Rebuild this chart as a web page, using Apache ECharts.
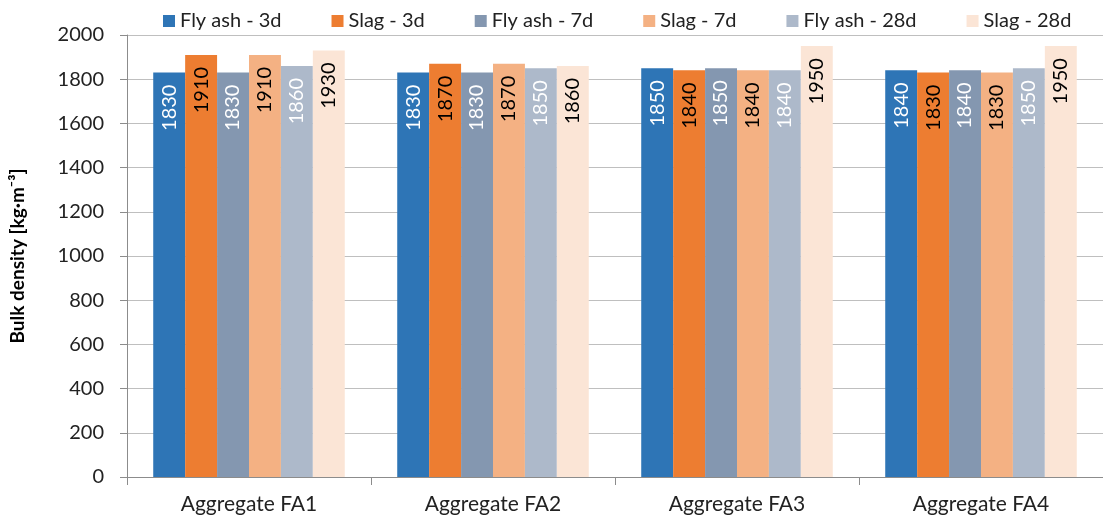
<!DOCTYPE html>
<html>
<head>
<meta charset="utf-8">
<script src="https://cdn.jsdelivr.net/npm/echarts@6/dist/echarts.min.js"></script>
<style>
  html, body { margin: 0; padding: 0; background: #fff; }
  #chart { width: 1103px; height: 518px; }
</style>
</head>
<body>
<div id="chart"></div>
<script>
// categories and values
const categories = ['Aggregate FA1', 'Aggregate FA2', 'Aggregate FA3', 'Aggregate FA4'];
const flyAsh3d  = [1830, 1830, 1850, 1840];
const slag3d    = [1910, 1870, 1840, 1830];
const flyAsh7d  = [1830, 1830, 1850, 1840];
const slag7d    = [1910, 1870, 1840, 1830];
const flyAsh28d = [1860, 1850, 1840, 1850];
const slag28d   = [1930, 1860, 1950, 1950];
const yTicks = [0, 200, 400, 600, 800, 1000, 1200, 1400, 1600, 1800, 2000];

const font = 'Lato, "Open Sans", sans-serif';

// name, data, bar colour, label colour
const seriesDefs = [
  ['Fly ash - 3d', flyAsh3d, '#2E75B6', '#ffffff'],
  ['Slag - 3d', slag3d, '#ED7D31', '#000000'],
  ['Fly ash - 7d', flyAsh7d, '#8497B0', '#ffffff'],
  ['Slag - 7d', slag7d, '#F4B183', '#000000'],
  ['Fly ash - 28d', flyAsh28d, '#ADB9CA', '#ffffff'],
  ['Slag - 28d', slag28d, '#FBE5D6', '#000000']
];

const chart = echarts.init(document.getElementById('chart'));
chart.setOption({
  animation: false,
  textStyle: { fontFamily: font },
  legend: {
    top: 6,
    left: 158,
    itemWidth: 12,
    itemHeight: 12,
    itemGap: 50,
    icon: 'rect',
    textStyle: { fontSize: 20, color: '#222', fontFamily: font }
  },
  grid: { left: 127, right: -5, top: 35, bottom: 41, containLabel: false },
  xAxis: {
    type: 'category',
    data: categories,
    axisLine: { lineStyle: { color: '#8c8c8c' } },
    axisTick: { show: true, length: 8, lineStyle: { color: '#8c8c8c' } },
    axisLabel: { fontSize: 21, color: '#222', margin: 17, fontFamily: font }
  },
  yAxis: {
    type: 'value',
    min: yTicks[0],
    max: yTicks[yTicks.length - 1],
    interval: 200,
    name: 'Bulk density [kg·m⁻³]',
    nameLocation: 'middle',
    nameGap: 100,
    nameTextStyle: { fontSize: 19, fontWeight: 'bold', color: '#000', fontFamily: font },
    axisLine: { show: true, lineStyle: { color: '#8c8c8c' } },
    axisTick: { show: true, length: 7, lineStyle: { color: '#8c8c8c' } },
    axisLabel: { fontSize: 20, color: '#222', margin: 23, fontFamily: font, formatter: v => String(v) },
    splitLine: { lineStyle: { color: '#bfbfbf' } }
  },
  series: seriesDefs.map(([name, data, color, labelColor]) => ({
    name: name,
    type: 'bar',
    data: data,
    barGap: '0%',
    barCategoryGap: '21.5%',
    itemStyle: { color: color },
    label: {
      show: true,
      position: 'insideTop',
      rotate: 90,
      align: 'right',
      verticalAlign: 'middle',
      distance: 12,
      fontSize: 20,
      color: labelColor,
      fontFamily: font
    }
  }))
});
</script>
</body>
</html>
